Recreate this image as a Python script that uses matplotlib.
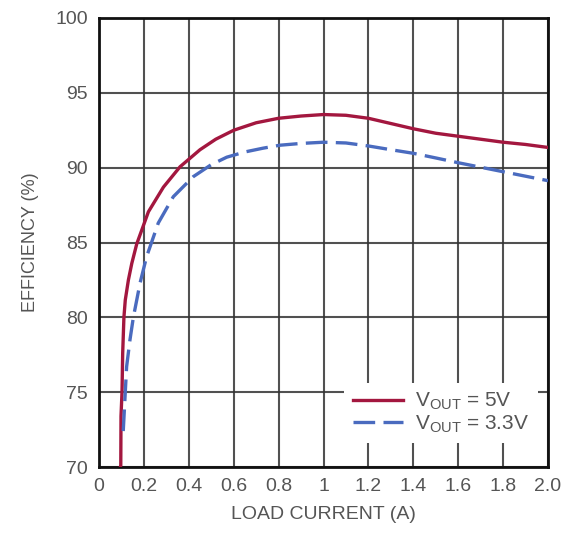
import matplotlib
matplotlib.use("Agg")
import matplotlib.pyplot as plt

# Data
x_5v = [0.095, 0.097, 0.098, 0.1025, 0.1055, 0.111, 0.117, 0.131, 0.146, 0.168, 0.22, 0.287,
        0.361, 0.45, 0.52, 0.6, 0.7, 0.8, 0.9, 1.0, 1.1, 1.2, 1.3, 1.4, 1.5, 1.6, 1.7, 1.8,
        1.9, 2.0]
eff_5v = [70.0, 70.1, 73.4, 75.0, 77.6, 80.0, 81.15, 82.5, 83.6, 84.9, 87.05, 88.7,
          90.06, 91.2, 91.9, 92.5, 93.0, 93.3, 93.45, 93.55, 93.5, 93.3, 92.95, 92.6, 92.3,
          92.1, 91.9, 91.7, 91.55, 91.35]

x_33v = [0.108, 0.123, 0.138, 0.153, 0.168, 0.183, 0.212, 0.264, 0.331, 0.42, 0.5, 0.569,
         0.65, 0.73, 0.806, 0.9, 1.0, 1.1, 1.2, 1.3, 1.4, 1.5, 1.6, 1.7, 1.8, 1.9, 2.0]
eff_33v = [72.4, 76.7, 78.5, 80.0, 81.15, 82.3, 84.05, 86.3, 88.06, 89.4, 90.2, 90.7,
           91.05, 91.3, 91.5, 91.62, 91.7, 91.65, 91.45, 91.2, 90.96, 90.65, 90.33, 90.03,
           89.73, 89.43, 89.13]

x_ticks = [0, 0.2, 0.4, 0.6, 0.8, 1.0, 1.2, 1.4, 1.6, 1.8, 2.0]
x_tick_labels = ["0", "0.2", "0.4", "0.6", "0.8", "1", "1.2", "1.4", "1.6", "1.8", "2.0"]
y_ticks = [70, 75, 80, 85, 90, 95, 100]
y_tick_labels = ["70", "75", "80", "85", "90", "95", "100"]

label_5v = r"V$_{\mathrm{OUT}}$ = 5V"
label_33v = r"V$_{\mathrm{OUT}}$ = 3.3V"

FONT = ["Liberation Sans", "DejaVu Sans"]
plt.rcParams["font.family"] = FONT
plt.rcParams["mathtext.fontset"] = "custom"
plt.rcParams["mathtext.rm"] = "Liberation Sans"
plt.rcParams["mathtext.it"] = "Liberation Sans"

RED = "#a3173f"
BLUE = "#4a6bbf"
TXT = "#555555"

fig = plt.figure(figsize=(5.67, 5.38), dpi=100)
ax = fig.add_axes([99 / 567, 71 / 538, 449 / 567, 449 / 538])

ax.plot(x_5v, eff_5v, color=RED, lw=2.4, label=label_5v, zorder=3,
        solid_joinstyle="round")
ax.plot(x_33v, eff_33v, color=BLUE, lw=2.4, dashes=(6.5, 2.5), label=label_33v, zorder=3,
        dash_joinstyle="round")

ax.set_xlim(0, 2.0)
ax.set_ylim(70, 100)
ax.set_xticks(x_ticks)
ax.set_xticklabels(x_tick_labels)
ax.set_yticks(y_ticks)
ax.set_yticklabels(y_tick_labels)
ax.tick_params(axis="both", length=0, labelsize=14, labelcolor=TXT, pad=8)
ax.grid(True, color="#333333", lw=1.5, alpha=0.85)
ax.set_axisbelow(True)
for s in ax.spines.values():
    s.set_linewidth(2.0)
    s.set_color("#111111")

ax.set_xlabel("LOAD CURRENT (A)", fontsize=14, color=TXT, labelpad=8)
ax.set_ylabel("EFFICIENCY (%)", fontsize=13, color=TXT, labelpad=12)

leg = ax.legend(loc="lower right", bbox_to_anchor=(1.0, 0.03), frameon=True,
                fontsize=15, handlelength=2.4, handletextpad=0.6, labelspacing=0.05,
                borderpad=0.4, fancybox=False)
leg.get_frame().set_edgecolor("none")
leg.get_frame().set_facecolor("white")
leg.get_frame().set_alpha(1.0)
for t in leg.get_texts():
    t.set_color(TXT)

fig.savefig("out.png", dpi=100)
